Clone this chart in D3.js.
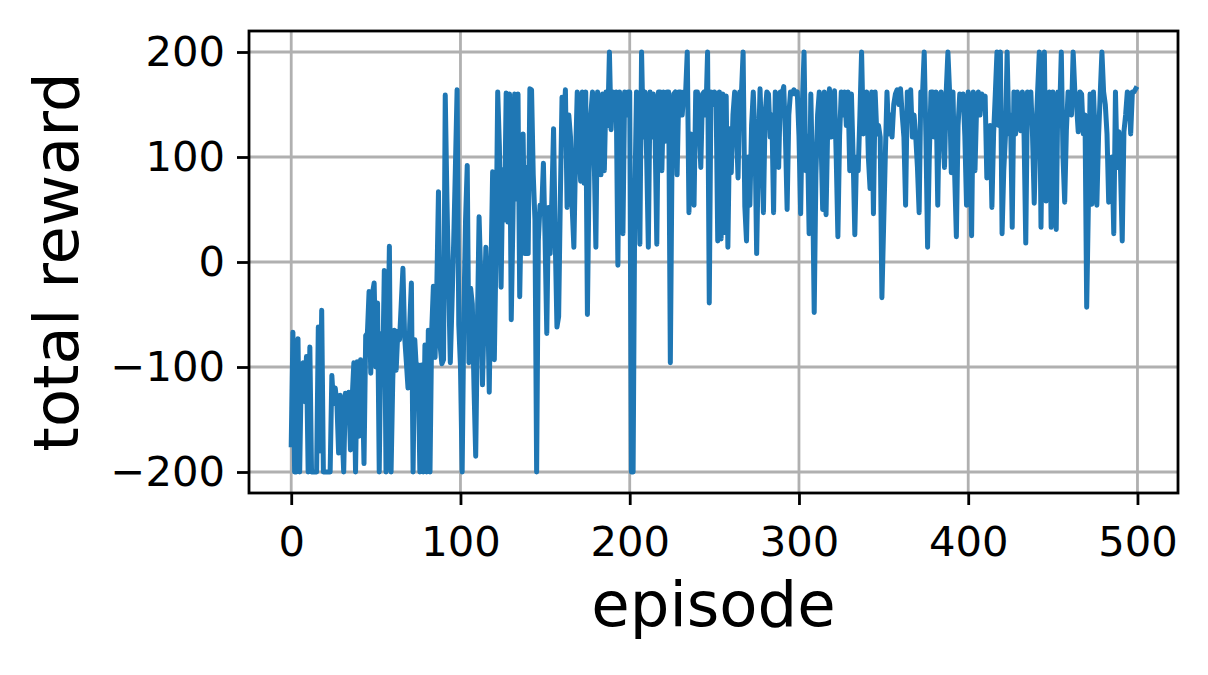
<!DOCTYPE html>
<html>
<head>
<meta charset="utf-8">
<script src="https://cdn.jsdelivr.net/npm/d3@7"></script>
<style>
  html, body { margin: 0; padding: 0; background: #ffffff; }
  svg { display: block; }
  text { font-family: "DejaVu Sans", sans-serif; }
</style>
</head>
<body>
<svg id="chart" width="1208" height="675"></svg>
<script>
// total reward per episode (episodes 0..499)
const rewards = [
  -174, -67, -200, -200, -73, -200, -98, -96, -133, -90,
  -200, -81, -200, -200, -200, -200, -62, -180, -46, -200,
  -200, -200, -200, -200, -108, -135, -120, -135, -182, -127,
  -160, -200, -125, -140, -124, -179, -130, -96, -200, -95,
  -166, -93, -114, -192, -70, -68, -28, -106, -30, -20,
  -100, -39, -200, -68, -110, -8, -200, -93, 15, -200,
  -112, -65, -103, -66, -74, -40, -6, -71, -95, -120,
  -60, -20, -200, -74, -104, -98, -200, -98, -200, -79,
  -200, -65, -200, -65, -23, -91, -25, 67, -80, -97,
  -93, 159, 60, -20, -96, -40, 20, 90, 164, -60,
  -100, -200, -50, 40, 92, -96, -25, -40, -120, -185,
  -60, 43, -15, -117, -50, 14, -30, -124, -10, 86,
  -93, 10, 162, 110, -24, 88, 40, 161, 38, 160,
  -55, 40, 160, 60, 160, -33, 60, 122, 8, 90,
  8, 165, 164, 83, 40, -200, 20, 54, 50, 94,
  20, -68, 52, 8, 60, 127, 20, -62, -52, 60,
  157, 130, 164, 52, 140, 119, 52, 14, 100, 162,
  110, 77, 162, 75, 162, -50, 85, 140, 162, 100,
  14, 162, 150, 83, 160, 87, 162, 130, 200, 126,
  162, 150, 162, -3, 162, 120, 27, 162, 140, 162,
  162, -200, -200, 60, 162, 120, 17, 200, 119, 162,
  100, 14, 162, 119, 160, 120, 17, 162, 162, 87,
  162, 115, 162, 162, -96, 100, 160, 162, 83, 162,
  162, 140, 162, 160, 200, 47, 122, 120, 54, 162,
  162, 130, 90, 160, 162, 140, 200, -39, 162, 150,
  162, 160, 20, 162, 22, 160, 28, 158, 14, 127,
  85, 140, 162, 130, 80, 162, 160, 200, 53, 20,
  100, 54, 130, 162, 120, 8, 100, 165, 115, 47,
  140, 162, 160, 119, 140, 47, 162, 158, 90, 162,
  160, 167, 120, 50, 140, 162, 160, 164, 160, 162,
  120, 46, 150, 200, 87, 120, 27, 160, 80, -48,
  83, 140, 162, 120, 50, 162, 45, 130, 165, 119,
  140, 163, 100, 24, 120, 162, 140, 162, 130, 162,
  87, 160, 100, 26, 100, 87, 140, 200, 122, 140,
  162, 100, 70, 162, 46, 162, 122, 130, 119, -34,
  33, 100, 162, 122, 140, 119, 150, 160, 164, 150,
  165, 140, 119, 54, 162, 150, 164, 119, 140, 119,
  90, 47, 162, 160, 200, 119, 14, 100, 162, 162,
  119, 162, 54, 150, 162, 122, 90, 162, 200, 162,
  85, 162, 83, 24, 130, 160, 150, 160, 120, 54,
  162, 120, 25, 162, 87, 150, 162, 140, 160, 150,
  158, 80, 90, 130, 52, 122, 160, 200, 130, 200,
  27, 87, 120, 200, 122, 140, 33, 162, 122, 162,
  150, 125, 162, 120, 18, 162, 150, 162, 120, 56,
  122, 162, 200, 33, 150, 200, 58, 140, 162, 33,
  162, 120, 31, 162, 140, 200, 100, 57, 125, 162,
  150, 140, 200, 162, 150, 124, 162, 160, 122, 140,
  -43, 54, 160, 55, 162, 120, 54, 119, 160, 200,
  162, 150, 122, 57, 87, 100, 27, 162, 90, 124,
  87, 20, 124, 140, 162, 160, 122, 162, 162, 165
];
const xTicks = [0, 100, 200, 300, 400, 500];
const yTicks = [-200, -100, 0, 100, 200];
const xLabel = "episode";
const yLabel = "total reward";

const svg = d3.select("#chart");
const plot = { left: 249, top: 31, width: 929, height: 462 };

const n = rewards.length;
const xPad = (n - 1) * 0.05;
const yMin = d3.min(rewards), yMax = d3.max(rewards);
const yPad = (yMax - yMin) * 0.05;

const x = d3.scaleLinear()
  .domain([0 - xPad, (n - 1) + xPad])
  .range([plot.left, plot.left + plot.width]);
const y = d3.scaleLinear()
  .domain([yMin - yPad, yMax + yPad])
  .range([plot.top + plot.height, plot.top]);

svg.append("rect")
  .attr("width", 1208).attr("height", 675).attr("fill", "#ffffff");

// grid
const grid = svg.append("g").attr("class", "grid");
grid.selectAll("line.vx").data(xTicks).join("line")
  .attr("x1", d => x(d)).attr("x2", d => x(d))
  .attr("y1", plot.top).attr("y2", plot.top + plot.height)
  .attr("stroke", "#b0b0b0").attr("stroke-width", 2.8);
grid.selectAll("line.hy").data(yTicks).join("line")
  .attr("x1", plot.left).attr("x2", plot.left + plot.width)
  .attr("y1", d => y(d)).attr("y2", d => y(d))
  .attr("stroke", "#b0b0b0").attr("stroke-width", 2.8);

// line
const clipId = "plotclip";
svg.append("clipPath").attr("id", clipId)
  .append("rect")
  .attr("x", plot.left).attr("y", plot.top)
  .attr("width", plot.width).attr("height", plot.height);

const line = d3.line()
  .x((d, i) => x(i))
  .y(d => y(d));

svg.append("path")
  .datum(rewards)
  .attr("clip-path", `url(#${clipId})`)
  .attr("fill", "none")
  .attr("stroke", "#1f77b4")
  .attr("stroke-width", 5)
  .attr("stroke-linejoin", "round")
  .attr("stroke-linecap", "square")
  .attr("d", line);

// axes
const fmt = d3.format("d");
const xAxis = d3.axisBottom(x).tickValues(xTicks).tickFormat(fmt)
  .tickSize(12).tickPadding(12).tickSizeOuter(0);
const yAxis = d3.axisLeft(y).tickValues(yTicks).tickFormat(fmt)
  .tickSize(12).tickPadding(12).tickSizeOuter(0);

const gx = svg.append("g")
  .attr("transform", `translate(0,${plot.top + plot.height})`)
  .call(xAxis);
const gy = svg.append("g")
  .attr("transform", `translate(${plot.left},0)`)
  .call(yAxis);

[gx, gy].forEach(g => {
  g.select(".domain").remove();
  g.selectAll(".tick line").attr("stroke", "#000").attr("stroke-width", 2.8);
  g.selectAll(".tick text")
    .attr("fill", "#000")
    .style("font-family", "'DejaVu Sans', sans-serif")
    .style("font-size", "41.7px");
});
gx.selectAll(".tick text").attr("dy", "0.93em");

// frame
svg.append("rect")
  .attr("x", plot.left).attr("y", plot.top)
  .attr("width", plot.width).attr("height", plot.height)
  .attr("fill", "none").attr("stroke", "#000").attr("stroke-width", 2.8);

// axis labels
svg.append("text")
  .attr("x", plot.left + plot.width / 2)
  .attr("y", 626)
  .attr("text-anchor", "middle")
  .style("font-size", "62.5px")
  .attr("fill", "#000")
  .text(xLabel);

svg.append("text")
  .attr("transform", `translate(78,${plot.top + plot.height / 2}) rotate(-90)`)
  .attr("text-anchor", "middle")
  .style("font-size", "62.5px")
  .attr("fill", "#000")
  .text(yLabel);
</script>
</body>
</html>
